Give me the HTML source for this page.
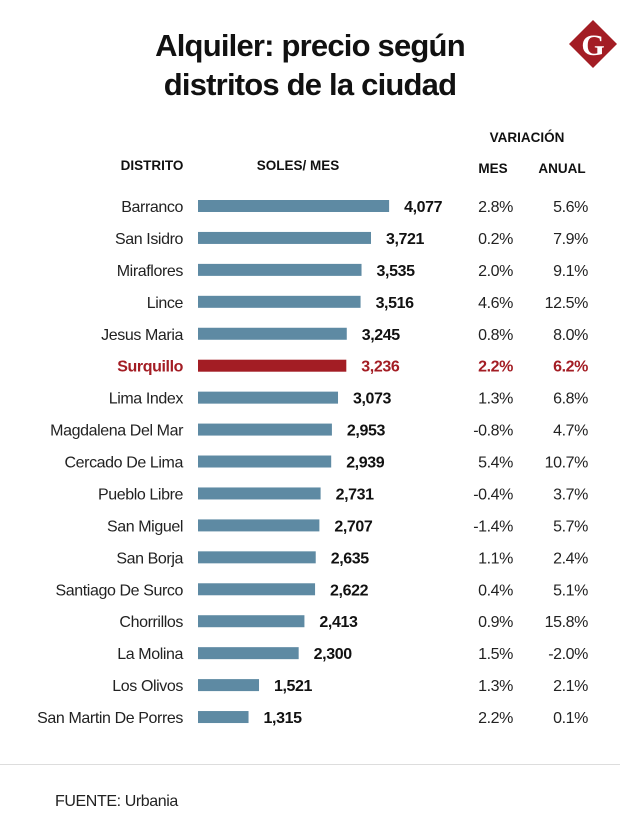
<!DOCTYPE html>
<html><head><meta charset="utf-8">
<style>
html,body{margin:0;padding:0;background:#fff;}
svg{display:block;font-family:"Liberation Sans",sans-serif;}
</style></head>
<body>
<svg id="chart" width="620" height="837" viewBox="0 0 620 837">
  <text x="310" y="56" text-anchor="middle" font-size="31" font-weight="bold" fill="#111" letter-spacing="-0.8">Alquiler: precio según</text>
  <text x="310" y="95" text-anchor="middle" font-size="31" font-weight="bold" fill="#111" letter-spacing="-0.8">distritos de la ciudad</text>
  <g>
    <polygon points="593,20 617,44 593,68 569,44" fill="#a31d24"/>
    <text x="593" y="55" text-anchor="middle" font-family="Liberation Serif,serif" font-weight="bold" font-size="30" fill="#fff">G</text>
  </g>
  <text x="527" y="142" text-anchor="middle" font-size="13.5" font-weight="bold" fill="#111">VARIACIÓN</text>
  <text x="152" y="170" text-anchor="middle" font-size="13.5" font-weight="bold" fill="#111">DISTRITO</text>
  <text x="298" y="170" text-anchor="middle" font-size="13.5" font-weight="bold" fill="#111">SOLES/ MES</text>
  <text x="493" y="173" text-anchor="middle" font-size="13.5" font-weight="bold" fill="#111">MES</text>
  <text x="562" y="173" text-anchor="middle" font-size="13.5" font-weight="bold" fill="#111">ANUAL</text>
  <g id="rows"></g>
  <line x1="0" y1="764.5" x2="620" y2="764.5" stroke="#ddd" stroke-width="1"/>
  <text x="55" y="806" font-size="16" fill="#222" letter-spacing="-0.4">FUENTE: Urbania</text>
</svg>
<script>
const districts = ["Barranco","San Isidro","Miraflores","Lince","Jesus Maria","Surquillo","Lima Index","Magdalena Del Mar","Cercado De Lima","Pueblo Libre","San Miguel","San Borja","Santiago De Surco","Chorrillos","La Molina","Los Olivos","San Martin De Porres"];
const prices = [4077,3721,3535,3516,3245,3236,3073,2953,2939,2731,2707,2635,2622,2413,2300,1521,1315];
const monthly = ["2.8%","0.2%","2.0%","4.6%","0.8%","2.2%","1.3%","-0.8%","5.4%","-0.4%","-1.4%","1.1%","0.4%","0.9%","1.5%","1.3%","2.2%"];
const annual = ["5.6%","7.9%","9.1%","12.5%","8.0%","6.2%","6.8%","4.7%","10.7%","3.7%","5.7%","2.4%","5.1%","15.8%","-2.0%","2.1%","0.1%"];
const highlight = "Surquillo";

const NS = "http://www.w3.org/2000/svg";
const g = document.getElementById('rows');
function xScale(v){ return 181.6 + v * 0.0509; }
function yScale(i){ return 206 + i * 31.94; }
function fmt(v){ return v.toLocaleString('en-US'); }
function txt(x,y,s,anchor,bold,color){
  const t = document.createElementNS(NS,'text');
  t.setAttribute('x',x); t.setAttribute('y',y);
  t.setAttribute('text-anchor',anchor);
  t.setAttribute('font-size','16');
  t.setAttribute('letter-spacing','-0.4');
  if(bold) t.setAttribute('font-weight','bold');
  t.setAttribute('fill',color);
  t.textContent = s;
  g.appendChild(t);
  return t;
}
districts.forEach((d,i)=>{
  const hi = d === highlight;
  const y = yScale(i);
  const col = hi ? "#a31d24" : "#222";
  const n = txt(183, y+6, d, 'end', hi, col);
  
  
  const r = document.createElementNS(NS,'rect');
  const x0 = 198, x1 = xScale(prices[i]);
  r.setAttribute('x', x0); r.setAttribute('y', y-6);
  r.setAttribute('width', Math.max(0, x1-x0)); r.setAttribute('height', 12);
  r.setAttribute('fill', hi ? "#a31d24" : "#5e8aa3");
  
  
  g.appendChild(r);
  const v = txt(x1+15, y+6, fmt(prices[i]), 'start', true, hi ? "#a31d24" : "#111");
  
  
  const m = txt(513, y+6, monthly[i], 'end', hi, col);
  
  
  const a = txt(588, y+6, annual[i], 'end', hi, col);
  
  
});
</script>
</body></html>
